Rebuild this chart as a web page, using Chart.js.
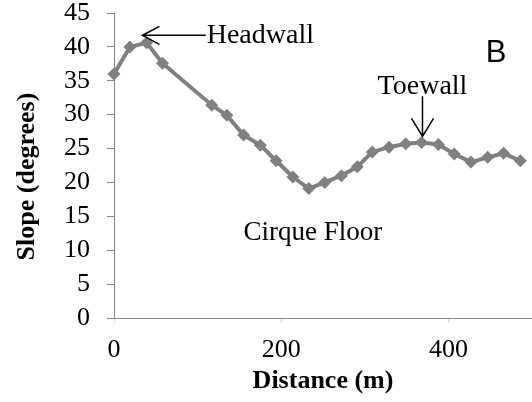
<!DOCTYPE html>
<html>
<head>
<meta charset="utf-8">
<script src="https://cdn.jsdelivr.net/npm/chart.js@4"></script>
<style>
  html, body { margin: 0; padding: 0; background: #fff; }
  #wrap { width: 532px; height: 402px; }
</style>
</head>
<body>
<div id="wrap"><canvas id="slopeChart" width="532" height="402"></canvas></div>
<script>
// DATA
const distance = [0, 19, 39, 58, 117, 135, 155, 175, 194, 214, 233, 252,
                  272, 291, 309, 329, 349, 368, 388, 407, 427, 447, 466, 486];
const slope = [36.0, 40.0, 40.6, 37.6, 31.4, 29.9, 27.0, 25.5, 23.2, 20.8, 19.1, 20.0,
               21.0, 22.3, 24.5, 25.2, 25.7, 25.9, 25.6, 24.2, 23.0, 23.7, 24.3, 23.2];
const xTicks = [0, 200, 400];
const yTicks = [0, 5, 10, 15, 20, 25, 30, 35, 40, 45];

const serif = "'Liberation Serif', 'Times New Roman', serif";
const gray = "#808080";
const axisGray = "#868686";

// ANNOTATIONS (text + arrows, placed in data units)
const annotations = {
  id: "annotations",
  afterDraw(chart) {
    const ctx = chart.ctx;
    const x = chart.scales.x, y = chart.scales.y;
    const px = v => x.getPixelForValue(v);
    const py = v => y.getPixelForValue(v);

    ctx.save();
    ctx.fillStyle = "#000";
    ctx.strokeStyle = "#000";
    ctx.lineWidth = 1.5;
    ctx.font = "28px " + serif;
    ctx.textBaseline = "middle";

    // Headwall
    const hTip = [px(34), py(41.7)], hTail = [px(109.7), py(41.7)];
    ctx.beginPath();
    ctx.moveTo(hTail[0], hTail[1]);
    ctx.lineTo(hTip[0], hTip[1]);
    ctx.moveTo(hTip[0] + 17, hTip[1] - 9);
    ctx.lineTo(hTip[0], hTip[1]);
    ctx.lineTo(hTip[0] + 17, hTip[1] + 9);
    ctx.stroke();
    ctx.textAlign = "left";
    ctx.fillText("Headwall", hTail[0] + 1, hTail[1]);

    // Toewall
    const tTip = [px(369), py(26.8)], tTail = [px(369), py(32.7)];
    ctx.beginPath();
    ctx.moveTo(tTail[0], tTail[1]);
    ctx.lineTo(tTip[0], tTip[1]);
    ctx.moveTo(tTip[0] - 11, tTip[1] - 18);
    ctx.lineTo(tTip[0], tTip[1]);
    ctx.lineTo(tTip[0] + 11, tTip[1] - 18);
    ctx.stroke();
    ctx.textAlign = "center";
    ctx.fillText("Toewall", px(369), py(34.2));

    // Cirque Floor
    ctx.font = "27px " + serif;
    ctx.fillText("Cirque Floor", px(238), py(12.6));

    // panel letter
    ctx.font = "31px 'Liberation Sans', Arial, sans-serif";
    ctx.fillText("B", px(457), py(39.0));

    // y axis title
    ctx.font = "bold 26px " + serif;
    ctx.translate(27, (chart.chartArea.top + chart.chartArea.bottom) / 2 + 11);
    ctx.rotate(-Math.PI / 2);
    ctx.fillText("Slope (degrees)", 0, 0);
    ctx.restore();
  }
};

new Chart(document.getElementById("slopeChart"), {
  type: "scatter",
  data: {
    datasets: [{
      data: distance.map((d, i) => ({ x: d, y: slope[i] })),
      showLine: true,
      borderColor: gray,
      backgroundColor: gray,
      borderWidth: 4,
      pointStyle: "rectRot",
      pointRadius: 6.5,
      pointBorderWidth: 0,
      tension: 0,
      clip: false
    }]
  },
  options: {
    responsive: false,
    animation: false,
    layout: { autoPadding: false, padding: { top: 13, right: 0, left: 0, bottom: 0 } },
    plugins: { legend: { display: false }, tooltip: { enabled: false } },
    scales: {
      x: {
        type: "linear",
        min: 0,
        max: 500,
        afterFit: s => { s.height = 84; s.paddingLeft = 0; s.paddingRight = 0; },
        afterBuildTicks: s => { s.ticks = xTicks.map(v => ({ value: v })); },
        ticks: { font: { family: serif, size: 26 }, color: "#000", padding: 12, autoSkip: false },
        grid: { drawOnChartArea: false, tickLength: 5, tickColor: "#d9d9d9" },
        border: { color: axisGray, width: 1 },
        title: {
          display: true,
          text: "Distance (m)",
          font: { family: serif, size: 26, weight: "bold" },
          color: "#000",
          padding: { top: 0, bottom: 5 }
        }
      },
      y: {
        min: 0,
        max: 45,
        afterFit: s => { s.width = 114; s.paddingTop = 0; s.paddingBottom = 0; },
        afterBuildTicks: s => { s.ticks = yTicks.map(v => ({ value: v })); },
        ticks: { font: { family: serif, size: 26 }, color: "#000", padding: 17, autoSkip: false },
        grid: { drawOnChartArea: false, tickLength: 7, tickColor: axisGray },
        border: { color: axisGray, width: 1 }
      }
    }
  },
  plugins: [annotations]
});
</script>
</body>
</html>
